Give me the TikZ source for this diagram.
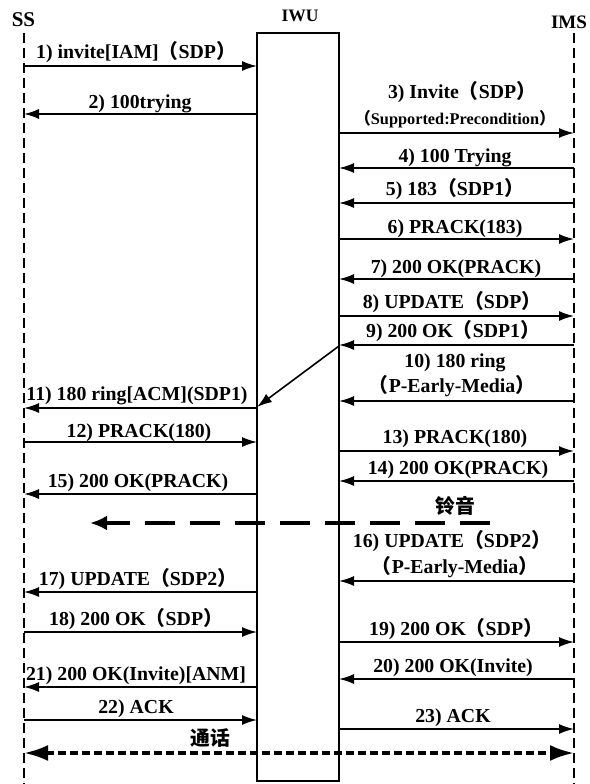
\documentclass[tikz,border=0pt]{standalone}
\usepackage{fontspec}
\setmainfont{Liberation Serif}
\newfontfamily\cjk{Noto Sans CJK SC}
\usetikzlibrary{arrows.meta}
\newcommand{\lpar}{{\cjk （}}
\newcommand{\rpar}{{\cjk ）}}
\begin{document}
\begin{tikzpicture}[x=1pt,y=-1pt,
  lab/.style={font=\fontsize{19.8}{21}\selectfont\bfseries, inner sep=0pt, anchor=base},
  smalllab/.style={font=\fontsize{16.3}{17}\selectfont\bfseries, inner sep=0pt, anchor=base},
  head/.style={font=\fontsize{19}{20}\selectfont\bfseries, inner sep=0pt},
  msg/.style={line width=1.6pt, -{Latex[length=15pt,width=10pt]}},
  life/.style={line width=1.8pt, dash pattern=on 10pt off 5pt},
  ring/.style={line width=3.5pt, dash pattern=on 30pt off 15pt, -{Latex[length=17pt,width=15pt]}},
  talk/.style={line width=3.5pt, dash pattern=on 8pt off 4pt, {Latex[length=24pt,width=16pt]}-{Latex[length=24pt,width=16pt]}}
]
\useasboundingbox (0,0) rectangle (589,784);
% headers
\node[head, font=\fontsize{21}{22}\selectfont\bfseries] (ss) at (23.5,20) {SS};
\node[head, font=\fontsize{17.5}{19}\selectfont\bfseries] (iwu) at (300,16) {IWU};
\node[head] (ims) at (569,22) {IMS};
% lifelines
\coordinate (S) at (24,0);
\coordinate (M) at (574,0);
\coordinate (WL) at (257,0);
\coordinate (WR) at (339,0);
\coordinate (sstop) at (24,33);
\coordinate (ssbot) at (24,784);
\coordinate (imstop) at (574,33);
\coordinate (imsbot) at (574,784);
\draw[life] (sstop) -- (ssbot);
\draw[life] (imstop) -- (imsbot);
\node[draw, line width=1.8pt, minimum width=82pt, minimum height=748pt, inner sep=0pt] (box) at (298,407) {};

% 1
\node[lab] (l1) at (136,59) {1) invite[IAM]\lpar SDP\rpar};
\draw[msg] (S|-0,66) -- (WL|-0,66);
% 2
\node[lab] (l2) at (140,108) {2) 100trying};
\draw[msg] (WL|-0,114) -- (S|-0,114);
% 3
\node[lab] (l3a) at (462,98) {3) Invite\lpar SDP\rpar};
\node[smalllab] (l3b) at (455,124) {\lpar Supported:Precondition\rpar};
\draw[msg] (WR|-0,133) -- (M|-0,133);
% 4
\node[lab] (l4) at (455,162) {4) 100 Trying};
\draw[msg] (M|-0,168) -- (WR|-0,168);
% 5
\node[lab] (l5) at (455,195) {5) 183\lpar SDP1\rpar};
\draw[msg] (M|-0,203) -- (WR|-0,203);
% 6
\node[lab] (l6) at (455,233) {6) PRACK(183)};
\draw[msg] (WR|-0,239) -- (M|-0,239);
% 7
\node[lab] (l7) at (456,273) {7) 200 OK(PRACK)};
\draw[msg] (M|-0,279) -- (WR|-0,279);
% 8
\node[lab] (l8) at (452,308) {8) UPDATE\lpar SDP\rpar};
\draw[msg] (WR|-0,316) -- (M|-0,316);
% 9
\node[lab] (l9) at (453,337) {9) 200 OK\lpar SDP1\rpar};
\draw[msg] (M|-0,345) -- (WR|-0,345);
% 10
\node[lab] (l10a) at (455,367) {10) 180 ring};
\node[lab] (l10b) at (452,392) {\lpar P-Early-Media\rpar};
\draw[msg] (M|-0,401) -- (WR|-0,401);
% relay
\draw[msg] (WR|-0,346) -- (WL|-0,407);
% 11
\node[lab] (l11) at (137,400) {11) 180 ring[ACM](SDP1)};
\draw[msg] (WL|-0,408) -- (S|-0,408);
% 12
\node[lab] (l12) at (139,437) {12) PRACK(180)};
\draw[msg] (S|-0,442) -- (WL|-0,442);
% 13
\node[lab] (l13) at (455,443) {13) PRACK(180)};
\draw[msg] (WR|-0,451) -- (M|-0,451);
% 14
\node[lab] (l14) at (458,474) {14) 200 OK(PRACK)};
\draw[msg] (M|-0,481) -- (WR|-0,481);
% 15
\node[lab] (l15) at (138,487) {15) 200 OK(PRACK)};
\draw[msg] (WL|-0,494) -- (S|-0,494);
% ring tone
\node[lab] (lring) at (455,513) {\cjk 铃音};
\coordinate (r1) at (490,523);
\coordinate (r0) at (90,523);
\draw[ring] (r1) -- (r0);
% 16
\node[lab] (l16a) at (452,547) {16) UPDATE\lpar SDP2\rpar};
\node[lab] (l16b) at (455,573) {\lpar P-Early-Media\rpar};
\draw[msg] (M|-0,581) -- (WR|-0,581);
% 17
\node[lab] (l17) at (138,585) {17) UPDATE\lpar SDP2\rpar};
\draw[msg] (WL|-0,592) -- (S|-0,592);
% 18
\node[lab] (l18) at (136,625) {18) 200 OK\lpar SDP\rpar};
\draw[msg] (S|-0,632) -- (WL|-0,632);
% 19
\node[lab] (l19) at (456,635) {19) 200 OK\lpar SDP\rpar};
\draw[msg] (WR|-0,642) -- (M|-0,642);
% 20
\node[lab] (l20) at (453,672) {20) 200 OK(Invite)};
\draw[msg] (M|-0,679) -- (WR|-0,679);
% 21
\node[lab] (l21) at (136,680) {21) 200 OK(Invite)[ANM]};
\draw[msg] (WL|-0,687) -- (S|-0,687);
% 22
\node[lab] (l22) at (136,713) {22) ACK};
\draw[msg] (S|-0,720) -- (WL|-0,720);
% 23
\node[lab] (l23) at (453,722) {23) ACK};
\draw[msg] (WR|-0,729) -- (M|-0,729);
% talk
\node[lab] (ltalk) at (210,745) {\cjk 通话};
\draw[talk] (S|-0,753) -- (M|-0,753);
\end{tikzpicture}
\end{document}
